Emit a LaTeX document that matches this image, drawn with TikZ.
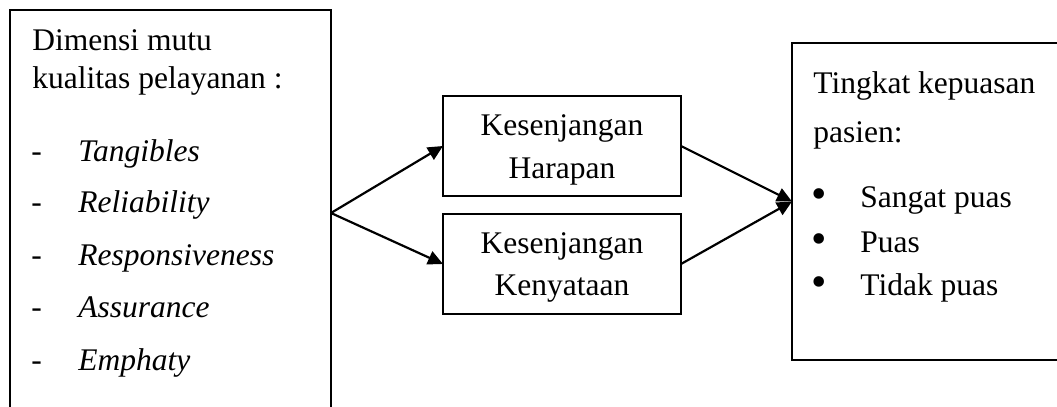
\documentclass[tikz,border=0pt]{standalone}
\usepackage{fontspec}
\setmainfont{Liberation Serif}
\usetikzlibrary{arrows.meta}
\tikzset{
  box/.style={draw, line width=1.3pt, rectangle, inner sep=0pt, outer sep=0pt},
  txt/.style={inner sep=0pt, anchor=base west, font=\fontsize{15.75}{18}\selectfont},
  ctxt/.style={inner sep=0pt, anchor=base, font=\fontsize{15.75}{18}\selectfont},
  bul/.style={inner sep=0pt, anchor=base west, font=\fontsize{22}{24}\selectfont},
  arr/.style={line width=1.1pt, -{Triangle[length=7.5pt,width=7pt]}}
}
\begin{document}
\begin{tikzpicture}[x=0.5pt,y=-0.5pt]
\useasboundingbox (0,0) rectangle (1057,407);
% boxes
\node[box, minimum width=160.5pt, minimum height=203pt] (lb) at (170.5,213) {};
\node[box, minimum width=119pt, minimum height=50pt] (hm) at (562,146) {};
\node[box, minimum width=119pt, minimum height=50pt] (km) at (562,264) {};
\node[box, minimum width=141.5pt, minimum height=158.5pt] (rb) at (933.5,201.5) {};
% left box text
\node[txt] (l1) at (32,50) {Dimensi mutu};
\node[txt] (l2) at (32,88) {kualitas pelayanan :};
\node[txt] (d1) at (31,162) {-};
\node[txt] (i1) at (78,162) {\itshape Tangibles};
\node[txt] (d2) at (31,213) {-};
\node[txt] (i2) at (78,213) {\itshape Reliability};
\node[txt] (d3) at (31,265) {-};
\node[txt] (i3) at (78,265) {\itshape Responsiveness};
\node[txt] (d4) at (31,317) {-};
\node[txt] (i4) at (78,317) {\itshape Assurance};
\node[txt] (d5) at (31,370) {-};
\node[txt] (i5) at (78,370) {\itshape Emphaty};
% middle text
\node[ctxt] (h1) at (562,135) {Kesenjangan};
\node[ctxt] (h2) at (562,178) {Harapan};
\node[ctxt] (k1) at (562,253) {Kesenjangan};
\node[ctxt] (k2) at (562,295) {Kenyataan};
% right box text
\node[txt] (r1) at (813,93) {Tingkat kepuasan};
\node[txt] (r2) at (813,142) {pasien:};
\node[bul] (b1) at (811,208) {•};
\node[txt] (s1) at (860,207) {Sangat puas};
\node[bul] (b2) at (811,253) {•};
\node[txt] (s2) at (860,252) {Puas};
\node[bul] (b3) at (811,296) {•};
\node[txt] (s3) at (860,295) {Tidak puas};
% connectors
\draw[arr] (lb.east) -- (hm.west);
\draw[arr] (lb.east) -- (km.west);
\draw[arr] (hm.east) -- (rb.west);
\draw[arr] (km.east) -- (rb.west);
\end{tikzpicture}
\end{document}
